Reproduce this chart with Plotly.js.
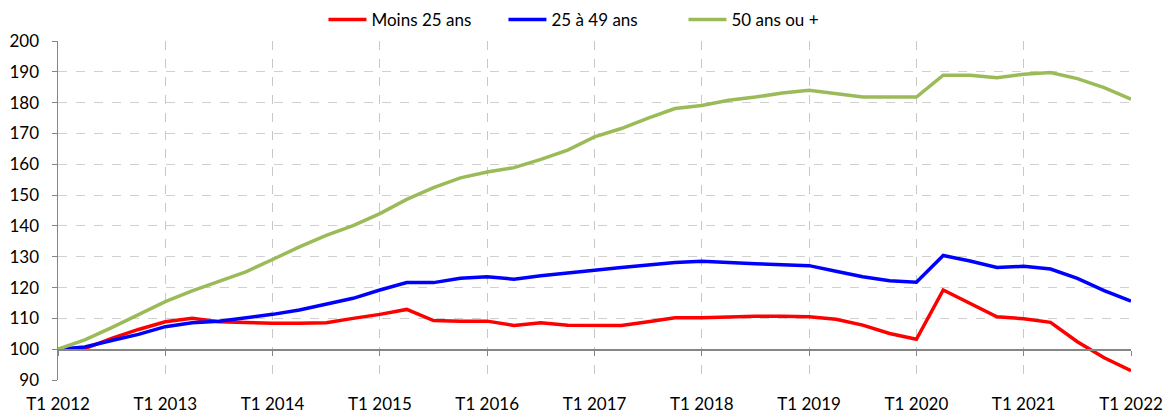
<!DOCTYPE html>
<html><head><meta charset="utf-8">
<script src="https://cdn.plot.ly/plotly-3.0.1.min.js"></script>
<style>html,body{margin:0;padding:0;background:#fff}#chart{width:1165px;height:414px}</style>
</head><body><div id="chart"></div>
<script>
const years = [2012,2013,2014,2015,2016,2017,2018,2019,2020,2021,2022];
const quarters = [];
years.forEach(y => { for (let q = 1; q <= 4; q++) { if (y === 2022 && q > 1) break; quarters.push('T' + q + ' ' + y); } });
const tickLabels = years.map(y => 'T1 ' + y);

const moins25 = [100,100.2,103.5,106.4,108.9,110.0,108.9,108.6,108.4,108.4,108.6,110.0,111.3,
  112.9,109.3,109.1,109.1,107.7,108.6,107.8,107.7,107.7,108.9,110.2,110.2,110.5,110.7,110.7,
  110.5,109.7,107.8,105.1,103.2,119.2,114.9,110.5,109.9,108.7,102.4,97.2,93.0];
const de25a49 = [100,100.7,102.8,104.8,107.3,108.6,109.1,110.2,111.3,112.7,114.6,116.5,119.2,
  121.6,121.6,123.0,123.5,122.7,123.8,124.6,125.6,126.5,127.4,128.1,128.5,128.0,127.7,127.4,
  127.1,125.3,123.5,122.2,121.7,130.4,128.6,126.5,126.9,126.0,123.0,119.0,115.6];
const ans50plus = [100,103.0,107.0,111.1,115.4,118.9,121.9,125.1,129.1,133.2,136.9,140.1,144.0,
  148.6,152.4,155.6,157.5,158.9,161.6,164.6,168.9,171.6,175.0,178.1,179.1,180.8,181.8,183.1,
  184.0,182.9,181.8,181.8,181.8,188.9,188.9,188.1,189.2,189.8,187.8,184.9,181.1];

const seriesNames = ['Moins 25 ans','25 à 49 ans','50 ans ou +'];
const seriesData = [moins25, de25a49, ans50plus];
const colors = ['#ff0000','#0000ff','#9bbb59'];

const traces = seriesData.map((d,i) => ({
  x: quarters, y: d, type: 'scatter', mode: 'lines', name: seriesNames[i],
  line: {color: colors[i], width: 3.5}
}));
traces.push({x: quarters, y: moins25, xaxis: 'x2', type: 'scatter', mode: 'lines',
  line: {width: 0}, showlegend: false, hoverinfo: 'skip', opacity: 0});

const font = {family: 'Lato', size: 17, color: '#000'};
const layout = {
  width: 1165, height: 414,
  margin: {l: 58, r: 34, t: 41, b: 34, autoexpand: false},
  paper_bgcolor: '#fff', plot_bgcolor: '#fff',
  font: font,
  showlegend: true,
  legend: {orientation: 'h', x: 0.5094, xanchor: 'center', xref: 'container',
    y: 0.952, yanchor: 'middle', yref: 'container',
    font: font, itemwidth: 38, traceorder: 'normal',
    entrywidth: 127, entrywidthmode: 'pixels'},
  xaxis: {
    type: 'category', range: [0, quarters.length - 1],
    tickvals: tickLabels, ticktext: tickLabels,
    showgrid: true, gridcolor: '#c8c8c8', griddash: 'dash', gridwidth: 1,
    showline: false, zeroline: false,
    ticks: 'outside', ticklen: 9, tickcolor: 'rgba(0,0,0,0)',
    tickfont: font
  },
  xaxis2: {
    type: 'category', range: [0, quarters.length - 1], overlaying: 'x',
    anchor: 'free', position: (100 - 90) / (200 - 90),
    tickvals: tickLabels, showticklabels: false,
    showgrid: false, showline: true, linecolor: '#868686', linewidth: 1.5,
    ticks: 'outside', ticklen: 5, tickcolor: '#868686', zeroline: false
  },
  yaxis: {
    range: [90, 200], dtick: 10, tick0: 90,
    showgrid: true, gridcolor: '#d0d0d0', griddash: 'dash', gridwidth: 1,
    showline: true, linecolor: '#868686', linewidth: 1.5,
    ticks: 'outside', ticklen: 5, tickcolor: '#868686', ticklabelstandoff: 9,
    zeroline: false, tickfont: font
  }
};
Plotly.newPlot('chart', traces, layout, {displayModeBar: false, staticPlot: true});
</script></body></html>
